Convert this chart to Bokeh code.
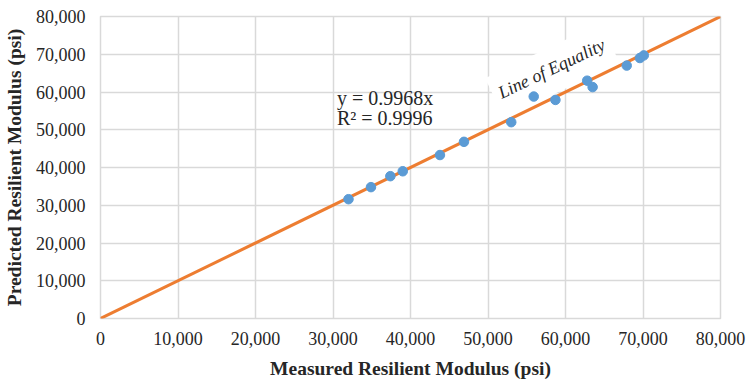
from bokeh.plotting import figure
from bokeh.models import NumeralTickFormatter, FixedTicker, Range1d
from bokeh.core.properties import value
from bokeh.embed import file_html
from bokeh.resources import INLINE

measured = [32000, 34900, 37400, 39000, 43800, 46900, 53000, 55900, 58700, 62800, 63500, 67900, 69600, 70100]
predicted = [31600, 34800, 37700, 39000, 43300, 46800, 52000, 58800, 57900, 63000, 61300, 67000, 69000, 69700]
eq_x = [0, 80000]
eq_y = [0, 80000]
ticks = list(range(0, 80001, 10000))

FONT = "Liberation Serif"

p = figure(output_backend="svg", toolbar_location=None,
           frame_width=620, frame_height=302,
           min_border_left=100, min_border_right=32, min_border_top=16, min_border_bottom=63,
           x_range=Range1d(0, 80000), y_range=Range1d(0, 80000))
p.background_fill_color = "white"
p.border_fill_color = "white"
p.outline_line_color = "#d9d9d9"
p.outline_line_width = 1.5

for ax in (p.xaxis[0], p.yaxis[0]):
    ax.ticker = FixedTicker(ticks=ticks)
    ax.formatter = NumeralTickFormatter(format="0,0")
    ax.axis_line_color = None
    ax.major_tick_line_color = None
    ax.minor_tick_line_color = None
    ax.major_tick_out = 0
    ax.major_tick_in = 0
    ax.minor_tick_out = 0
    ax.minor_tick_in = 0
    ax.major_label_text_font = FONT
    ax.major_label_text_font_size = "18px"
    ax.major_label_text_color = "#262626"
    ax.axis_label_text_font = FONT
    ax.axis_label_text_font_size = "19.5px"
    ax.axis_label_text_font_style = "bold"
    ax.axis_label_text_color = "#262626"

p.xaxis.axis_label = "Measured Resilient Modulus (psi)"
p.yaxis.axis_label = "Predicted Resilient Modulus (psi)"
p.xaxis.major_label_standoff = 13
p.yaxis.major_label_standoff = 15
p.xaxis.axis_label_standoff = 10
p.yaxis.axis_label_standoff = 8

p.xgrid.ticker = FixedTicker(ticks=ticks)
p.ygrid.ticker = FixedTicker(ticks=ticks)
p.xgrid.grid_line_color = "#d9d9d9"
p.ygrid.grid_line_color = "#d9d9d9"
p.xgrid.grid_line_width = 1.5
p.ygrid.grid_line_width = 1.5

p.text(x=[58300], y=[65700], text=["Line of Equality"], angle=0.445,
       text_font=value(FONT), text_font_style="italic", text_font_size="18px",
       text_color="#262626", text_align="center", text_baseline="middle",
       background_fill_color="white",
       padding=dict(left=6, right=6, top=10, bottom=14))

p.line(eq_x, eq_y, line_color="#ED7D31", line_width=3)
p.scatter(measured, predicted, size=9.5, fill_color="#5B9BD5", line_color="#5B9BD5")

p.text(x=[30500, 30500], y=[58500, 53000], text=["y = 0.9968x", "R² = 0.9996"],
       text_font=value(FONT), text_font_size="20px", text_color="#262626",
       text_align="left", text_baseline="middle")

open("out.html", "w").write(file_html(p, INLINE))
